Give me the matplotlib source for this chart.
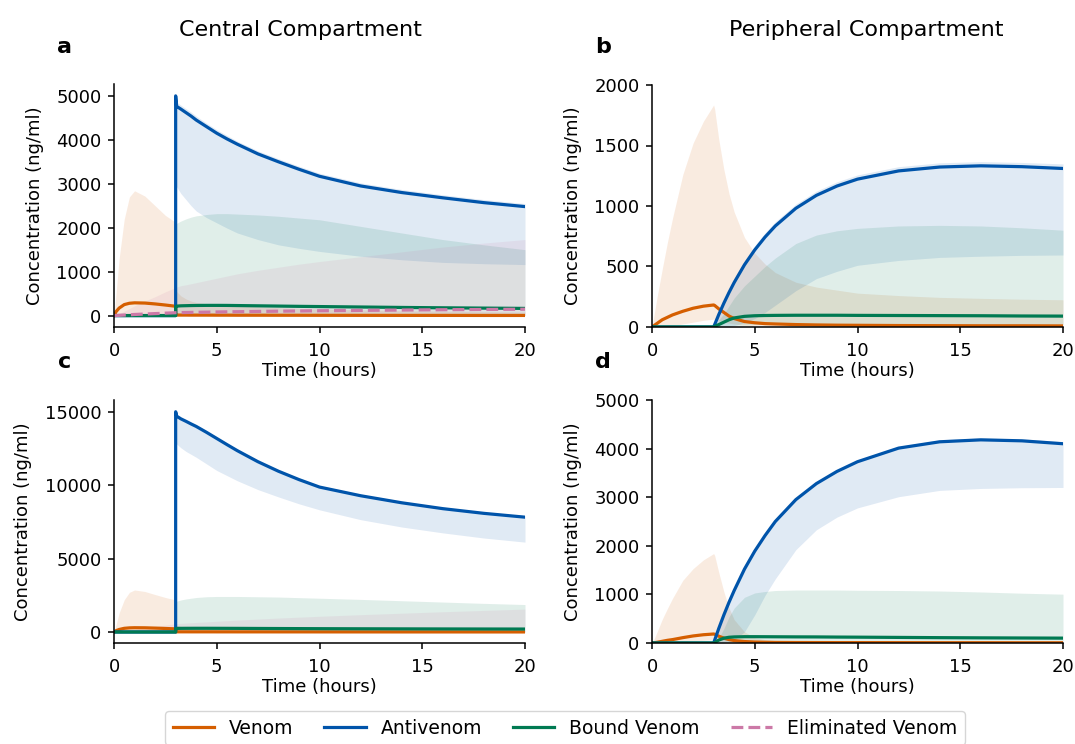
import numpy as np
import matplotlib
matplotlib.use("Agg")
import matplotlib.pyplot as plt

# time grid (hours); 3 appears twice for the antivenom dose step
t = [0, 0.1, 0.25, 0.5, 0.75, 1, 1.5, 2, 2.5, 3,
     3, 3.05, 3.25, 3.5, 3.75, 4, 4.5, 5, 5.5, 6, 7, 8, 9, 10, 12, 14, 16, 18, 20]

Z10 = [0] * 10
Z11 = [0] * 11

# ---- panel a: central compartment ----
a_venom = [0, 90, 170, 250, 280, 290, 285, 265, 240, 212,
           15, 12, 11, 11, 10, 10, 10, 9, 9, 8, 8, 7, 7, 6, 5, 4, 4, 3, 3]
a_venom_lo = [0, 3, 8, 12, 15, 15, 15, 15, 15, 15] + [0] * 19
a_venom_hi = [0, 500, 1300, 2200, 2700, 2840, 2720, 2500, 2280, 2120,
              600, 550, 450, 380, 330, 300, 270, 250, 235, 220, 200, 180, 165, 150, 130, 110, 100, 90, 80]
a_anti = Z10 + [5000, 4760, 4700, 4620, 4540, 4450, 4300, 4150, 4020, 3900, 3680, 3500, 3330, 3170, 2950, 2800, 2680, 2570, 2480]
a_anti_lo = Z10 + [2950, 2930, 2780, 2640, 2500, 2380, 2230, 2110, 1990, 1880, 1730, 1610, 1530, 1460, 1350, 1270, 1210, 1180, 1160]
a_anti_hi = Z10 + [5000, 4860, 4790, 4710, 4630, 4540, 4380, 4230, 4100, 3970, 3750, 3570, 3400, 3240, 3020, 2870, 2750, 2640, 2550]
a_bound = Z10 + [200, 215, 222, 225, 228, 230, 232, 232, 231, 228, 222, 216, 210, 205, 195, 185, 177, 170, 163]
a_bound_lo = [0] * 29
a_bound_hi = Z10 + [2050, 2100, 2150, 2200, 2240, 2270, 2300, 2320, 2320, 2310, 2290, 2260, 2220, 2180, 2030, 1880, 1730, 1610, 1500]
a_elim = [0, 2, 5, 12, 18, 25, 35, 45, 55, 65,
          65, 66, 68, 70, 72, 74, 78, 82, 85, 88, 94, 100, 105, 110, 118, 126, 133, 139, 145]
a_elim_lo = [0] * 29
a_elim_hi = [0, 20, 50, 100, 160, 220, 330, 430, 540, 640,
             640, 650, 680, 700, 725, 750, 800, 850, 900, 950, 1030, 1100, 1170, 1230, 1340, 1450, 1560, 1650, 1730]

# ---- panel b: peripheral compartment ----
b_venom = [0, 12, 30, 60, 80, 100, 130, 155, 172, 182,
           182, 178, 150, 120, 90, 70, 45, 35, 28, 25, 20, 17, 15, 14, 12, 11, 10, 10, 9]
b_venom_lo = [0, 0, 1, 3, 6, 10, 25, 40, 55, 65,
              65, 60, 50, 40, 32, 25, 15, 10, 7, 5, 4, 3, 3, 2, 2, 1, 1, 1, 1]
b_venom_hi = [0, 100, 250, 480, 700, 900, 1260, 1520, 1700, 1835,
              1835, 1800, 1550, 1300, 1100, 950, 740, 610, 520, 450, 370, 330, 305, 280, 260, 245, 237, 230, 225]
b_anti = Z11 + [20, 103, 198, 286, 368, 514, 637, 743, 835, 981, 1088, 1165, 1222, 1290, 1322, 1332, 1325, 1310]
b_anti_lo = Z11 + [0, 0, 2, 5, 12, 35, 70, 120, 180, 300, 400, 460, 510, 550, 575, 585, 592, 595]
b_anti_hi = Z11 + [35, 135, 232, 320, 402, 549, 672, 778, 870, 1016, 1123, 1200, 1257, 1325, 1357, 1367, 1360, 1348]
b_bound = Z11 + [5, 20, 40, 60, 75, 88, 93, 95, 96, 97, 97, 97, 96, 95, 94, 93, 91, 90]
b_bound_lo = Z11 + [0, 2, 5, 8, 10, 15, 20, 20, 20, 20, 20, 20, 20, 20, 20, 20, 20, 20]
b_bound_hi = Z11 + [10, 60, 110, 175, 240, 340, 420, 500, 570, 690, 760, 795, 815, 835, 840, 835, 820, 800]

# ---- panel c: central compartment, higher antivenom dose ----
c_venom = a_venom
c_venom_lo = a_venom_lo
c_venom_hi = [0, 500, 1300, 2200, 2700, 2860, 2760, 2550, 2350, 2180,
              500, 450, 380, 300, 270, 250, 220, 200, 185, 170, 150, 130, 120, 110, 100, 90, 80, 70, 60]
c_anti = Z10 + [15000, 14700, 14520, 14350, 14170, 14000, 13600, 13180, 12760, 12350, 11600, 10950, 10380, 9870, 9280, 8800, 8400, 8080, 7820]
c_anti_lo = Z10 + [13000, 12800, 12550, 12300, 12100, 11900, 11450, 11000, 10650, 10300, 9700, 9200, 8730, 8320, 7650, 7150, 6750, 6400, 6120]
c_anti_hi = Z10 + [15050, 14800, 14620, 14450, 14270, 14100, 13700, 13280, 12860, 12450, 11700, 11050, 10480, 9970, 9380, 8900, 8500, 8180, 7920]
c_bound = Z10 + [230, 245, 248, 250, 251, 252, 252, 250, 248, 246, 240, 235, 230, 225, 218, 212, 207, 203, 200]
c_bound_lo = [0] * 29
c_bound_hi = Z10 + [2000, 2100, 2180, 2250, 2300, 2350, 2400, 2420, 2420, 2420, 2400, 2380, 2340, 2300, 2220, 2130, 2040, 1950, 1870]
c_elim_lo = [0] * 29
c_elim_hi = [0, 15, 40, 90, 140, 190, 290, 380, 470, 560,
             560, 570, 590, 610, 630, 650, 690, 730, 770, 810, 880, 950, 1010, 1070, 1180, 1280, 1380, 1470, 1560]

# ---- panel d: peripheral compartment, higher antivenom dose ----
d_venom = [0, 5, 15, 35, 55, 70, 110, 145, 170, 185,
           185, 180, 140, 100, 70, 50, 30, 20, 15, 12, 10, 9, 8, 8, 7, 6, 6, 5, 5]
d_venom_lo = [0, 0, 1, 3, 6, 10, 25, 40, 55, 65,
              65, 60, 40, 25, 15, 10, 6, 4, 3, 2, 2, 1, 1, 1, 1, 1, 1, 1, 1]
d_venom_hi = [0, 80, 230, 490, 710, 920, 1290, 1530, 1710, 1840,
              1840, 1800, 1450, 1050, 720, 480, 230, 110, 70, 50, 40, 35, 32, 30, 28, 25, 22, 20, 18]
d_anti = Z11 + [60, 300, 580, 840, 1080, 1520, 1890, 2210, 2500, 2950, 3280, 3530, 3730, 4010, 4140, 4180, 4160, 4100]
d_anti_lo = Z11 + [0, 0, 0, 20, 60, 230, 580, 980, 1320, 1920, 2330, 2590, 2780, 3010, 3140, 3180, 3195, 3200]
d_anti_hi = Z11 + [75, 325, 610, 875, 1115, 1555, 1925, 2245, 2535, 2985, 3315, 3565, 3765, 4045, 4180, 4220, 4200, 4140]
d_bound = Z11 + [10, 60, 100, 118, 125, 130, 130, 129, 128, 126, 125, 122, 120, 115, 110, 106, 103, 100]
d_bound_lo = Z11 + [0, 2, 5, 8, 10, 15, 20, 20, 20, 20, 20, 20, 20, 20, 20, 20, 20, 20]
d_bound_hi = Z11 + [20, 100, 300, 540, 720, 940, 1030, 1060, 1080, 1090, 1090, 1090, 1085, 1080, 1070, 1050, 1025, 1005]

labels = ["Venom", "Antivenom", "Bound Venom", "Eliminated Venom"]
colors = ["#d55e00", "#0054aa", "#007a52", "#cc79a7"]
band_alpha = 0.12

fig = plt.figure(figsize=(10.75, 7.44), dpi=100)
W, H = 1075.0, 744.0


def make_ax(left, top, right, bottom):
    return fig.add_axes([left / W, 1 - bottom / H, (right - left) / W, (bottom - top) / H])


ax_a = make_ax(114, 84, 525, 327)
ax_b = make_ax(652, 85, 1063, 327)
ax_c = make_ax(114, 400, 525, 643)
ax_d = make_ax(652, 400, 1063, 643)

panels = [
    (ax_a, [(a_venom, a_venom_lo, a_venom_hi), (a_anti, a_anti_lo, a_anti_hi),
            (a_bound, a_bound_lo, a_bound_hi), (a_elim, a_elim_lo, a_elim_hi)], (-260, 5270)),
    (ax_b, [(b_venom, b_venom_lo, b_venom_hi), (b_anti, b_anti_lo, b_anti_hi),
            (b_bound, b_bound_lo, b_bound_hi), None], (0, 2000)),
    (ax_c, [(c_venom, c_venom_lo, c_venom_hi), (c_anti, c_anti_lo, c_anti_hi),
            (c_bound, c_bound_lo, c_bound_hi), (None, c_elim_lo, c_elim_hi)], (-750, 15800)),
    (ax_d, [(d_venom, d_venom_lo, d_venom_hi), (d_anti, d_anti_lo, d_anti_hi),
            (d_bound, d_bound_lo, d_bound_hi), None], (0, 5000)),
]

handles = []
for ax, series, ylim in panels:
    # shaded ranges first, then the median lines
    for i, s in enumerate(series):
        if s is None:
            continue
        ax.fill_between(t, s[1], s[2], color=colors[i], alpha=band_alpha, lw=0)
    for i, s in enumerate(series):
        if s is None or s[0] is None:
            continue
        ls = "--" if i == 3 else "-"
        ln, = ax.plot(t, s[0], color=colors[i], lw=2.3, ls=ls, label=labels[i])
        if ax is ax_a:
            handles.append(ln)
    ax.set_xlim(0, 20)
    ax.set_ylim(*ylim)
    ax.set_xticks([0, 5, 10, 15, 20])
    ax.spines["top"].set_visible(False)
    ax.spines["right"].set_visible(False)
    for sp in ["left", "bottom"]:
        ax.spines[sp].set_linewidth(1.1)
    ax.tick_params(labelsize=13, width=1.1, length=4.5)
    ax.tick_params(axis="x", pad=6)
    ax.tick_params(axis="y", pad=4.5)
    ax.set_xlabel("Time (hours)", fontsize=13, labelpad=2)
    ax.set_ylabel("Concentration (ng/ml)", fontsize=13, labelpad=9)

ax_b.set_yticks([0, 500, 1000, 1500, 2000])
ax_c.set_yticks([0, 5000, 10000, 15000])
ax_d.set_yticks([0, 1000, 2000, 3000, 4000, 5000])

fig.text(300 / W, 1 - 36 / H, "Central Compartment", fontsize=16, ha="center", va="baseline")
fig.text(866 / W, 1 - 36 / H, "Peripheral Compartment", fontsize=16, ha="center", va="baseline")
for letter, x, y in [("a", 64, 53), ("b", 603, 53), ("c", 65, 368), ("d", 603, 368)]:
    fig.text(x / W, 1 - y / H, letter, fontsize=16, fontweight="bold", ha="center", va="baseline")

fig.legend(handles=handles, loc="upper center", bbox_to_anchor=(565 / W, 1 - 711 / H),
           ncol=4, fontsize=13.5, frameon=True, edgecolor="#cccccc", handlelength=2.2,
           columnspacing=1.65, borderaxespad=0)

fig.savefig("out.png", dpi=100)
